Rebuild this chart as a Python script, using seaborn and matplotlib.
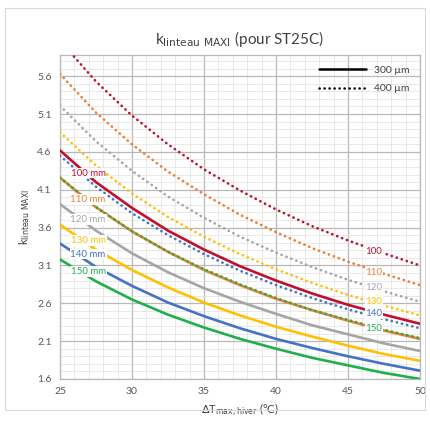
import numpy as np
import pandas as pd
import matplotlib.pyplot as plt
import matplotlib.patches as mpatches
from matplotlib.lines import Line2D
import seaborn as sns

# ---------- Data ----------
dT = [25, 27.5, 30, 32.5, 35, 37.5, 40, 42.5, 45, 47.5, 50]
thick = ['100', '110', '120', '130', '140', '150']

k_300 = {
    '100': [4.62, 4.20, 3.86, 3.56, 3.31, 3.09, 2.90, 2.73, 2.58, 2.45, 2.33],
    '110': [4.26, 3.87, 3.55, 3.28, 3.04, 2.84, 2.66, 2.51, 2.37, 2.24, 2.13],
    '120': [3.91, 3.56, 3.26, 3.01, 2.80, 2.62, 2.46, 2.31, 2.19, 2.07, 1.97],
    '130': [3.64, 3.31, 3.04, 2.81, 2.61, 2.44, 2.29, 2.16, 2.04, 1.93, 1.84],
    '140': [3.39, 3.08, 2.83, 2.61, 2.43, 2.27, 2.13, 2.01, 1.90, 1.80, 1.71],
    '150': [3.18, 2.89, 2.65, 2.45, 2.28, 2.13, 2.00, 1.88, 1.78, 1.68, 1.60],
}
k_400 = {
    '100': [6.07, 5.53, 5.08, 4.70, 4.37, 4.09, 3.84, 3.62, 3.43, 3.26, 3.10],
    '110': [5.63, 5.12, 4.70, 4.34, 4.04, 3.77, 3.54, 3.33, 3.15, 2.99, 2.84],
    '120': [5.21, 4.74, 4.35, 4.01, 3.73, 3.48, 3.27, 3.08, 2.91, 2.76, 2.62],
    '130': [4.86, 4.42, 4.05, 3.74, 3.48, 3.25, 3.05, 2.87, 2.71, 2.57, 2.44],
    '140': [4.55, 4.14, 3.79, 3.50, 3.25, 3.03, 2.84, 2.67, 2.52, 2.39, 2.27],
    '150': [4.26, 3.87, 3.55, 3.28, 3.05, 2.85, 2.67, 2.51, 2.38, 2.25, 2.14],
}

# label positions (left: 300 µm curves, right: 400 µm curves)
left_lab_y = [4.32, 3.97, 3.71, 3.43, 3.25, 3.02]
right_lab_y = [3.28, 3.01, 2.81, 2.63, 2.47, 2.27]

colors = ['#C0102E', '#ED7D31', '#A5A5A5', '#FFC000', '#4472C4', '#1FAF4B']
palette = dict(zip(thick, colors))

rows = []
for t in thick:
    for x, v in zip(dT, k_300[t]):
        rows.append((t, '300 µm', x, v))
    for x, v in zip(dT, k_400[t]):
        rows.append((t, '400 µm', x, v))
df = pd.DataFrame(rows, columns=['ep', 'film', 'dT', 'k'])

# ---------- Plot ----------
sns.set_style('white')
plt.rcParams['font.family'] = ['Lato', 'DejaVu Sans']
plt.rcParams['lines.dash_capstyle'] = 'round'
plt.rcParams['lines.solid_capstyle'] = 'round'

fig = plt.figure(figsize=(4.3, 4.21), dpi=100)
ax = fig.add_axes([0.1395, 0.0998, 0.8372, 0.7695])

fig.patches.append(mpatches.Rectangle((0.012, 0.025), 0.976, 0.955, transform=fig.transFigure,
                                      fill=False, ec='#D9D9D9', lw=0.8))

dot = (0.1, 1.9)
sns.lineplot(data=df, x='dT', y='k', hue='ep', style='film', palette=palette,
             dashes={'300 µm': '', '400 µm': dot}, linewidth=1.9,
             legend=False, ax=ax, zorder=3)

ax.set_xlim(25, 50)
ax.set_ylim(1.6, 5.88)
ax.set_xticks(np.arange(25, 51, 5))
ax.set_yticks(np.arange(1.6, 5.61, 0.5))
ax.set_yticklabels([f'{v:.1f}' for v in np.arange(1.6, 5.61, 0.5)])
ax.set_xticks(np.arange(25, 51, 1), minor=True)
ax.set_yticks(np.arange(1.6, 5.88, 0.1), minor=True)
ax.grid(which='major', color='#B8B8B8', lw=0.9)
ax.grid(which='minor', color='#E0E0E0', lw=0.5)
ax.tick_params(which='both', length=0, labelsize=7.5, labelcolor='#595959', pad=6)
for s in ax.spines.values():
    s.set_color('#B8B8B8')
    s.set_linewidth(0.9)

for t, c, y in zip(thick, colors, left_lab_y):
    ax.text(26.95, y, f'{t} mm', color=c, fontsize=7, ha='center', va='center', zorder=5,
            bbox=dict(fc='white', ec='none', pad=0.6))
for t, c, y in zip(thick, colors, right_lab_y):
    ax.text(46.8, y, t, color=c, fontsize=7, ha='center', va='center', zorder=5,
            bbox=dict(fc='white', ec='none', pad=0.6))

handles = [Line2D([0], [0], color='black', lw=1.8, label='300 µm'),
           Line2D([0], [0], color='black', lw=1.8, dashes=dot, label='400 µm')]
leg = ax.legend(handles=handles, loc='upper right', frameon=False, fontsize=7.5,
                handlelength=4.5, borderaxespad=0.6, labelspacing=0.9)
for txt in leg.get_texts():
    txt.set_color('#404040')

ax.set_title(r'k$_{\mathrm{linteau\ MAXI}}$ (pour ST25C)', fontsize=11, color='#404040', pad=8)
ax.set_ylabel(r'k$_{\mathrm{linteau\ MAXI}}$', fontsize=8, color='#404040')
ax.set_xlabel(r'$\Delta$T$_{\mathrm{max,hiver}}$ (°C)', fontsize=8, color='#404040')

fig.savefig('out.png', dpi=100)
